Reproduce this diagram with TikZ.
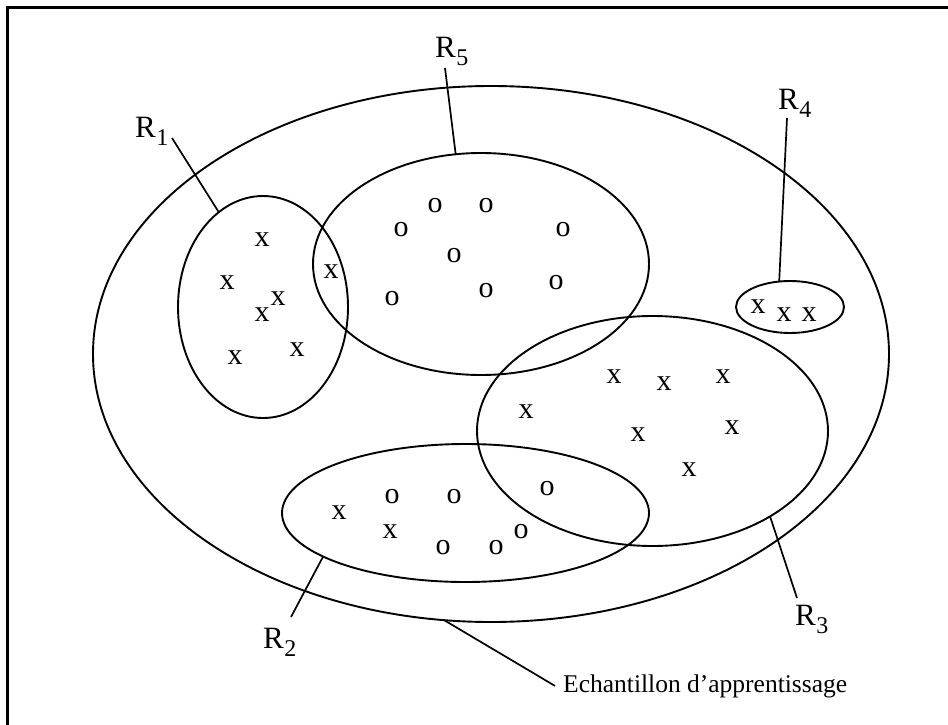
\documentclass[tikz,border=0pt]{standalone}
\usepackage{fontspec}
\setmainfont{Liberation Serif}
\usetikzlibrary{shapes.geometric}
\newcommand{\subfnt}{\fontsize{24}{24}\selectfont}
\newcommand{\Rlab}[1]{R\kern0.5pt\raisebox{-8pt}{\subfnt #1}}
\begin{document}
\begin{tikzpicture}[x=1pt,y=-1pt,
  region/.style={ellipse, draw, line width=1.9pt, inner sep=0pt, outer sep=0pt},
  sampx/.style={inner sep=0pt, font=\fontsize{30}{30}\selectfont},
  lbl/.style={anchor=base west, inner sep=0pt, font=\fontsize{31}{31}\selectfont},
  leader/.style={line width=1.7pt}]
\useasboundingbox (0,0) rectangle (948,725);
% frame
\draw[line width=3pt] (948,7.5) -- (7.5,7.5) -- (7.5,725);
% regions
\node[region, minimum width=796pt, minimum height=536pt] (outer) at (491,354) {};
\node[region, minimum width=170pt, minimum height=222pt] (R1e) at (263,307) {};
\node[region, minimum width=336pt, minimum height=222pt] (R5e) at (481,264) {};
\node[region, minimum width=108pt, minimum height=52pt] (R4e) at (790,307) {};
\node[region, minimum width=351pt, minimum height=230pt] (R3e) at (652.5,431) {};
\node[region, minimum width=367pt, minimum height=138pt] (R2e) at (465.5,513) {};
% samples x
\foreach \px/\py [count=\i] in {262/240,227/283,278/299,262/315,235/358,297/350,331/272,
  758/307,784/315,809/315,614/377,664/384,723/377,526/412,638/435,732/428,689/470,
  339/513,390/532}
  \node[sampx] (sx\i) at (\px,\py) {x};
% samples o
\foreach \px/\py [count=\i] in {435/206,486/206,401/230,454/256,392/299,486/291,563/230,556/283,
  547/489,392/497,454/497,443/548,496/548,521/532}
  \node[sampx] (so\i) at (\px,\py) {o};
% labels
\node[lbl] (R1l) at (135,137) {\Rlab{1}};
\node[lbl] (R5l) at (435,58) {\Rlab{5}};
\node[lbl] (R4l) at (778,110) {\Rlab{4}};
\node[lbl] (R3l) at (795,625) {\Rlab{3}};
\node[lbl] (R2l) at (263,648) {\Rlab{2}};
\node[anchor=base west, inner ysep=0pt, inner xsep=8pt, font=\fontsize{25.5}{25.5}\selectfont] (ech) at (555,692) {Echantillon d’apprentissage};
% leader ends near labels
\coordinate (R1a) at (172,138);
\coordinate (R5a) at (445,68);
\coordinate (R4a) at (787,118);
\coordinate (R3a) at (797,598);
\coordinate (R2a) at (291,617);
% leaders
\draw[leader] (R1a) -- (R1e.115);
\draw[leader] (R5a) -- (R5e.103);
\draw[leader] (R4a) -- (R4e.113);
\draw[leader] (R3e.-36) -- (R3a);
\draw[leader] (R2e.197) -- (R2a);
\draw[leader] (outer.260) -- (ech.west);
\end{tikzpicture}
\end{document}
